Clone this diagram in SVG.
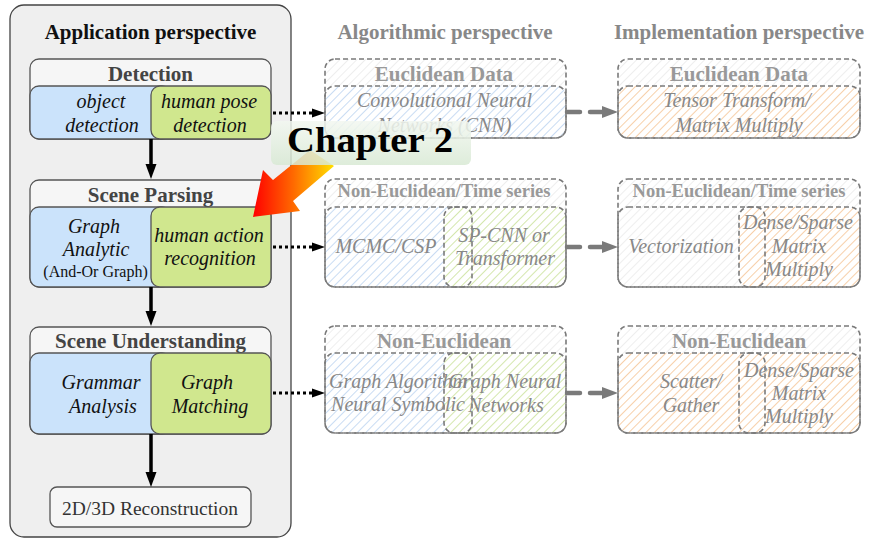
<svg xmlns="http://www.w3.org/2000/svg" width="870" height="539" viewBox="0 0 870 539">
<defs>
<style>
.panel{fill:#efefef;stroke:#444;stroke-width:1.3}
.hdr{fill:#f6f6f6;stroke:#555;stroke-width:1.3}
.blue{fill:#cbe3fb;stroke:#555;stroke-width:1.3}
.green{fill:#d0e78e;stroke:#555;stroke-width:1.3}
.title{font-family:"Liberation Serif",serif;font-weight:bold;font-size:21px;text-anchor:middle;fill:#111}
.htxt{font-family:"Liberation Serif",serif;font-weight:bold;font-size:21px;text-anchor:middle;fill:#444}
.it{font-family:"Liberation Serif",serif;font-style:italic;font-size:20px;text-anchor:middle;fill:#111}
.rg{font-family:"Liberation Serif",serif;font-size:16px;text-anchor:middle;fill:#111}
.rec{font-family:"Liberation Serif",serif;font-size:19.5px;text-anchor:middle;fill:#333}
.gtitle{font-family:"Liberation Serif",serif;font-weight:bold;font-size:21px;text-anchor:middle;fill:#888}
.gh{font-family:"Liberation Serif",serif;font-weight:bold;font-size:21px;text-anchor:middle;fill:#999}
.gh2{font-family:"Liberation Serif",serif;font-weight:bold;font-size:18.5px;text-anchor:middle;fill:#999}
.git{font-family:"Liberation Serif",serif;font-style:italic;font-size:20px;text-anchor:middle;fill:#888}
.dbox{fill:none;stroke:#7a7a7a;stroke-width:1.6;stroke-dasharray:5 3}
.dot{stroke:#000;stroke-width:2.8;stroke-dasharray:3 3;fill:none}
.gar{stroke:#7a7a7a;stroke-width:4.5;stroke-dasharray:13 10;stroke-linecap:round;fill:none}
.vline{stroke:#000;stroke-width:3.5;fill:none}
</style>
<pattern id="hg" width="6" height="6" patternUnits="userSpaceOnUse" patternTransform="rotate(45)"><rect width="6" height="6" fill="#fff"/><line x1="0" y1="0" x2="0" y2="6" stroke="#eeeeee" stroke-width="2"/></pattern>
<pattern id="hb" width="6" height="6" patternUnits="userSpaceOnUse" patternTransform="rotate(45)"><rect width="6" height="6" fill="#fff"/><line x1="0" y1="0" x2="0" y2="6" stroke="#c9dcf3" stroke-width="2"/></pattern>
<pattern id="hgr" width="6" height="6" patternUnits="userSpaceOnUse" patternTransform="rotate(45)"><rect width="6" height="6" fill="#fff"/><line x1="0" y1="0" x2="0" y2="6" stroke="#d4e7ad" stroke-width="2"/></pattern>
<pattern id="ho" width="6" height="6" patternUnits="userSpaceOnUse" patternTransform="rotate(45)"><rect width="6" height="6" fill="#fff"/><line x1="0" y1="0" x2="0" y2="6" stroke="#f7d0aa" stroke-width="2"/></pattern>
<linearGradient id="arrG" x1="0" y1="0" x2="1" y2="0">
<stop offset="0" stop-color="#ff0000"/><stop offset="0.5" stop-color="#ff6a00"/><stop offset="1" stop-color="#ffe000"/>
</linearGradient>
<linearGradient id="lblG" x1="0" y1="0" x2="0" y2="1">
<stop offset="0" stop-color="#f2f7f0"/><stop offset="1" stop-color="#d8e9d4"/>
</linearGradient>
</defs>
<rect width="870" height="539" fill="#fff"/>

<g id="application-panel">
<rect class="panel" x="10" y="5" width="281" height="532" rx="14"/>
<text class="title" x="150.5" y="39">Application perspective</text>
</g>

<g id="detection">
<rect class="hdr" x="30" y="59" width="241" height="80" rx="9"/>
<text class="htxt" x="150.5" y="81">Detection</text>
<rect class="blue" x="30" y="86" width="141" height="53" rx="9"/>
<rect class="green" x="151" y="86" width="120" height="53" rx="9"/>
<text class="it" x="101" y="108">object</text>
<text class="it" x="102" y="132">detection</text>
<text class="it" x="209" y="108">human pose</text>
<text class="it" x="210" y="132">detection</text>
</g>

<g id="scene-parsing">
<rect class="hdr" x="30" y="180" width="241" height="107" rx="9"/>
<text class="htxt" x="150.5" y="202">Scene Parsing</text>
<rect class="blue" x="30" y="207" width="141" height="80" rx="9"/>
<rect class="green" x="151" y="207" width="120" height="80" rx="9"/>
<text class="it" x="94" y="233">Graph</text>
<text class="it" x="96" y="256">Analytic</text>
<text class="rg" x="95.5" y="277">(And-Or Graph)</text>
<text class="it" x="209" y="242">human action</text>
<text class="it" x="210" y="265">recognition</text>
</g>

<g id="scene-understanding">
<rect class="hdr" x="30" y="327" width="241" height="107" rx="9"/>
<text class="htxt" x="150.5" y="348">Scene Understanding</text>
<rect class="blue" x="30" y="353" width="141" height="81" rx="9"/>
<rect class="green" x="151" y="353" width="120" height="81" rx="9"/>
<text class="it" x="101" y="389">Grammar</text>
<text class="it" x="103" y="413">Analysis</text>
<text class="it" x="207" y="389">Graph</text>
<text class="it" x="210" y="413">Matching</text>
</g>

<g id="reconstruction">
<rect class="hdr" x="50" y="487" width="201" height="40" rx="7"/>
<text class="rec" x="150" y="515">2D/3D Reconstruction</text>
</g>

<text class="gtitle" x="445" y="39">Algorithmic perspective</text>
<text class="gtitle" x="739" y="39">Implementation perspective</text>

<g id="algo-euclidean">
<rect x="325" y="59" width="241" height="79" rx="10" fill="url(#hg)"/>
<rect x="325" y="86" width="241" height="52" rx="10" fill="url(#hb)"/>
<rect class="dbox" x="325" y="59" width="241" height="79" rx="10"/>
<rect class="dbox" x="325" y="86" width="241" height="52" rx="10"/>
<text class="gh" x="444" y="81">Euclidean Data</text>
<text class="git" x="444.5" y="107">Convolutional Neural</text>
<text class="git" x="444.5" y="132">Networks (CNN)</text>
</g>

<g id="impl-euclidean">
<rect x="618" y="59" width="242" height="79" rx="10" fill="url(#hg)"/>
<rect x="618" y="86" width="242" height="52" rx="10" fill="url(#ho)"/>
<rect class="dbox" x="618" y="59" width="242" height="79" rx="10"/>
<rect class="dbox" x="618" y="86" width="242" height="52" rx="10"/>
<text class="gh" x="739" y="81">Euclidean Data</text>
<text class="git" x="737" y="107">Tensor Transform/</text>
<text class="git" x="739" y="132">Matrix Multiply</text>
</g>

<g id="algo-noneuclid-time">
<rect x="325" y="179" width="241" height="108" rx="10" fill="url(#hg)"/>
<rect x="325" y="207" width="147" height="80" rx="10" fill="url(#hb)"/>
<rect x="444" y="207" width="122" height="80" rx="10" fill="url(#hgr)"/>
<rect class="dbox" x="325" y="179" width="241" height="108" rx="10"/>
<rect class="dbox" x="325" y="207" width="241" height="80" rx="10"/>
<rect class="dbox" x="444" y="207" width="28" height="80" rx="10"/>
<text class="gh2" x="444" y="197">Non-Euclidean/Time series</text>
<text class="git" x="386" y="253">MCMC/CSP</text>
<text class="git" x="504" y="242">SP-CNN or</text>
<text class="git" x="505" y="265">Transformer</text>
</g>

<g id="impl-noneuclid-time">
<rect x="618" y="179" width="242" height="108" rx="10" fill="url(#hg)"/>
<rect x="739" y="207" width="121" height="80" rx="10" fill="url(#ho)"/>
<rect class="dbox" x="618" y="179" width="242" height="108" rx="10"/>
<rect class="dbox" x="618" y="207" width="242" height="80" rx="10"/>
<rect class="dbox" x="739" y="207" width="26" height="80" rx="10"/>
<text class="gh2" x="739" y="197">Non-Euclidean/Time series</text>
<text class="git" x="681" y="253">Vectorization</text>
<text class="git" x="798" y="229">Dense/Sparse</text>
<text class="git" x="799" y="253">Matrix</text>
<text class="git" x="799" y="276">Multiply</text>
</g>

<g id="algo-noneuclid">
<rect x="325" y="326" width="241" height="107" rx="10" fill="url(#hg)"/>
<rect x="325" y="353" width="147" height="80" rx="10" fill="url(#hb)"/>
<rect x="444" y="353" width="122" height="80" rx="10" fill="url(#hgr)"/>
<rect class="dbox" x="325" y="326" width="241" height="107" rx="10"/>
<rect class="dbox" x="325" y="353" width="241" height="80" rx="10"/>
<rect class="dbox" x="444" y="353" width="28" height="80" rx="10"/>
<text class="gh" x="444" y="348">Non-Euclidean</text>
<text class="git" x="398" y="388">Graph Algorithm</text>
<text class="git" x="398" y="411">Neural Symbolic</text>
<text class="git" x="505" y="388">Graph Neural</text>
<text class="git" x="506" y="412">Networks</text>
</g>

<g id="impl-noneuclid">
<rect x="618" y="326" width="242" height="107" rx="10" fill="url(#hg)"/>
<rect x="618" y="353" width="242" height="80" rx="10" fill="url(#ho)"/>
<rect class="dbox" x="618" y="326" width="242" height="107" rx="10"/>
<rect class="dbox" x="618" y="353" width="242" height="80" rx="10"/>
<rect class="dbox" x="739" y="353" width="26" height="80" rx="10"/>
<text class="gh" x="739" y="348">Non-Euclidean</text>
<text class="git" x="691" y="388">Scatter/</text>
<text class="git" x="691" y="412">Gather</text>
<text class="git" x="799" y="377">Dense/Sparse</text>
<text class="git" x="799" y="400">Matrix</text>
<text class="git" x="799" y="423">Multiply</text>
</g>

<g id="connectors">
<line class="vline" x1="151" y1="139" x2="151" y2="165"/>
<polygon points="145.5,164 156.5,164 151,179" fill="#000"/>
<line class="vline" x1="151" y1="287" x2="151" y2="312"/>
<polygon points="145.5,311 156.5,311 151,326" fill="#000"/>
<line class="vline" x1="151" y1="434" x2="151" y2="473"/>
<polygon points="145.5,472 156.5,472 151,487" fill="#000"/>

<line class="dot" x1="273" y1="113" x2="314" y2="113"/>
<polygon points="312,108.5 325,113 312,117.5" fill="#000"/>
<line class="dot" x1="273" y1="247" x2="314" y2="247"/>
<polygon points="312,242.5 325,247 312,251.5" fill="#000"/>
<line class="dot" x1="273" y1="393" x2="314" y2="393"/>
<polygon points="312,388.5 325,393 312,397.5" fill="#000"/>

<path class="gar" d="M567,112 H604"/>
<polygon points="602,106 618,112 602,118" fill="#7a7a7a"/>
<path class="gar" d="M567,247 H604"/>
<polygon points="602,241 618,247 602,253" fill="#7a7a7a"/>
<path class="gar" d="M567,393 H604"/>
<polygon points="602,387 618,393 602,399" fill="#7a7a7a"/>
</g>

<g id="chapter-arrow">
<polygon points="253,217 263,170 273,180 310,150 334,166 293,201 300,211" fill="url(#arrG)"/>
</g>
<g id="chapter-label">
<rect x="271" y="121" width="200" height="44" rx="6" fill="url(#lblG)" fill-opacity="0.85"/>
<text x="370" y="152" textLength="166" lengthAdjust="spacingAndGlyphs" style="font-family:'Liberation Serif',serif;font-weight:bold;font-size:35px;text-anchor:middle;fill:#000">Chapter 2</text>
</g>
</svg>
